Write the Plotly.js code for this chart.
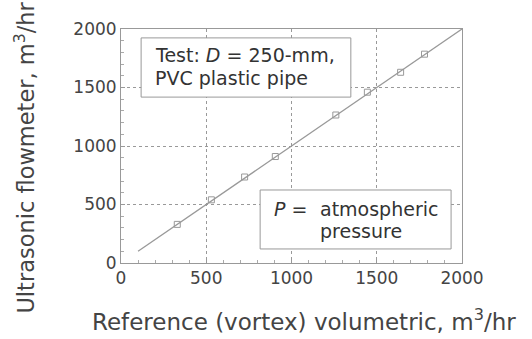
<!DOCTYPE html>
<html><head><meta charset="utf-8">
<script src="https://cdn.plot.ly/plotly-3.0.1.min.js"></script>
<style>body{margin:0;background:#fff}#c{width:532px;height:339px}</style>
</head><body><div id="c"></div>
<script>
const lineX = [100, 2000];
const lineY = [100, 2000];
const refX = [330, 530, 725, 905, 1260, 1445, 1640, 1780];
const ultraY = [330, 540, 735, 910, 1265, 1460, 1630, 1785];
const tickVals = [0, 500, 1000, 1500, 2000];
const tickText = ['0', '500', '1000', '1500', '2000'];
const xTitle = 'Reference (vortex) volumetric, m<sup>3</sup>/hr';
const yTitle = 'Ultrasonic flowmeter, m<sup>3</sup>/hr';

const font = 'DejaVu Sans, sans-serif';
const axisCommon = {
  range: [0, 2000], tickvals: tickVals, ticktext: tickText,
  showgrid: true, gridcolor: '#999', griddash: 'dot', gridwidth: 1,
  showline: true, linecolor: '#999', linewidth: 1, mirror: true,
  ticks: 'inside', ticklen: 4, tickcolor: '#999',
  minor: {dtick: 100, ticks: 'inside', ticklen: 3, tickcolor: '#aaa', showgrid: false},
  zeroline: false, tickfont: {family: font, size: 17, color: '#444'}
};
const annFont = {family: font, size: 19, color: '#333'};
function txt(x, y, text, xanchor) {
  return {x: x, y: y, xref: 'paper', yref: 'paper', xanchor: xanchor || 'left', yanchor: 'middle',
          text: text, showarrow: false, font: annFont};
}
Plotly.newPlot('c', [
  {x: lineX, y: lineY, mode: 'lines', line: {color: '#999', width: 1.3}, hoverinfo: 'skip'},
  {x: refX, y: ultraY, mode: 'markers', marker: {symbol: 'square-open', size: 6, color: '#999', line: {width: 1}}}
], {
  width: 532, height: 339, showlegend: false,
  paper_bgcolor: '#fff', plot_bgcolor: '#fff',
  margin: {l: 121, r: 70, t: 29, b: 76},
  xaxis: Object.assign({}, axisCommon),
  yaxis: Object.assign({}, axisCommon),
  shapes: [
    {type: 'rect', xref: 'paper', yref: 'paper', x0: 0.059, x1: 0.674, y0: 0.709, y1: 0.962,
     line: {color: '#999', width: 1}, fillcolor: '#fff', layer: 'above'},
    {type: 'rect', xref: 'paper', yref: 'paper', x0: 0.408, x1: 0.968, y0: 0.060, y1: 0.312,
     line: {color: '#999', width: 1}, fillcolor: '#fff', layer: 'above'}
  ],
  annotations: [
    txt(0.094, 0.888, 'Test: <i>D</i> = 250-mm,'),
    txt(0.094, 0.792, 'PVC plastic pipe'),
    txt(0.443, 0.232, '<i>P</i> ='),
    txt(0.578, 0.232, 'atmospheric'),
    txt(0.578, 0.136, 'pressure'),
    {x: 0.538, y: -0.245, xref: 'paper', yref: 'paper', xanchor: 'center', yanchor: 'middle',
     text: xTitle, showarrow: false, font: {family: font, size: 23, color: '#444'}},
    {x: -0.284, y: 0.451, xref: 'paper', yref: 'paper', xanchor: 'center', yanchor: 'middle', textangle: -90,
     text: yTitle, showarrow: false, font: {family: font, size: 22.5, color: '#444'}}
  ]
}, {displayModeBar: false, staticPlot: true});
</script></body></html>
